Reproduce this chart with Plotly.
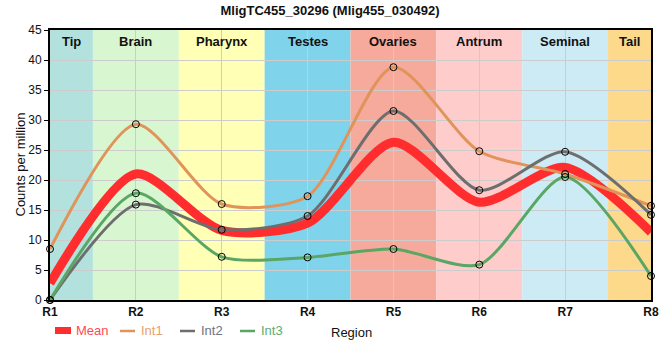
import plotly.graph_objects as go

regions = ["R1", "R2", "R3", "R4", "R5", "R6", "R7", "R8"]
xpos = [1, 2, 3, 4, 5, 6, 7, 8]
int1 = [8.5, 29.3, 16.0, 17.3, 38.8, 24.8, 21.0, 15.7]
int2 = [0.0, 15.9, 11.7, 14.0, 31.5, 18.3, 24.7, 14.2]
int3 = [0.0, 17.8, 7.2, 7.1, 8.5, 5.9, 20.5, 4.0]
mean = [2.8, 21.0, 11.6, 12.8, 26.3, 16.3, 22.1, 11.3]

band_names = ["Tip", "Brain", "Pharynx", "Testes", "Ovaries", "Antrum", "Seminal", "Tail"]
band_colors = ["#b3e2de", "#d8f6cf", "#ffffb5", "#7fd3ea", "#f5aa9c", "#ffcccc", "#cdebf5", "#fdd98c"]

# plot area in pixels (for placing the hand-made legend)
L, R, T, B = 50, 651, 30, 300
def px(x):
    return (x - L) / (R - L)
def py(y):
    return (B - y) / (B - T)

fig = go.Figure()

shapes = []
annotations = []
for i, (nm, col) in enumerate(zip(band_names, band_colors)):
    x0 = max(1, xpos[i] - 0.5)
    x1 = min(8, xpos[i] + 0.5)
    shapes.append(dict(type="rect", xref="x", yref="paper", x0=x0, x1=x1, y0=0, y1=1,
                       fillcolor=col, line=dict(width=0), layer="below"))
    annotations.append(dict(x=(x0 + x1) / 2, y=1, xref="x", yref="paper", yanchor="top",
                            yshift=-2, text="<b>" + nm + "</b>", showarrow=False,
                            font=dict(size=13, color="#111")))

series = [
    ("Mean", mean, "#ff2d2d", 9, False, "#ff4a55", 55, 74),
    ("Int1", int1, "#e0935a", 3, True, "#e9a06e", 120, 139),
    ("Int2", int2, "#6e6e6e", 3, True, "#727282", 180, 199),
    ("Int3", int3, "#5aa765", 3, True, "#62aa72", 240, 259),
]
for name, vals, col, w, mk, tcol, lx, tx in series:
    fig.add_trace(go.Scatter(
        x=xpos, y=vals, mode="lines", name=name, showlegend=False,
        line=dict(color=col, width=w, shape="spline", smoothing=0.75),
        cliponaxis=True,
    ))
    # legend sample
    if name == "Mean":
        shapes.append(dict(type="rect", xref="paper", yref="paper",
                           x0=px(lx), x1=px(lx + 16), y0=py(334), y1=py(327),
                           fillcolor=col, line=dict(width=0)))
    else:
        shapes.append(dict(type="line", xref="paper", yref="paper",
                           x0=px(lx), x1=px(lx + 15), y0=py(331), y1=py(331),
                           line=dict(color=col, width=2.5)))
    annotations.append(dict(x=px(tx), y=py(331), xref="paper", yref="paper",
                            xanchor="left", yanchor="middle", text=name, showarrow=False,
                            font=dict(size=13, color=tcol)))
for name, vals, col, w, mk, tcol, lx, tx in series:
    if mk:
        fig.add_trace(go.Scatter(
            x=xpos, y=vals, mode="markers", showlegend=False, hoverinfo="skip",
            marker=dict(symbol="circle-open", size=7, color="black", line=dict(width=1)),
            cliponaxis=False,
        ))

# axis titles
annotations.append(dict(x=px(351), y=py(332), xref="paper", yref="paper",
                        xanchor="center", yanchor="middle", text="Region", showarrow=False,
                        font=dict(size=13, color="#111")))
annotations.append(dict(x=px(19.5), y=0.5, xref="paper", yref="paper", textangle=-90,
                        xanchor="center", yanchor="middle", text="Counts per million",
                        showarrow=False, font=dict(size=13, color="#111")))

fig.update_layout(
    width=660, height=360,
    margin=dict(l=50, r=9, t=30, b=60),
    paper_bgcolor="white", plot_bgcolor="white",
    showlegend=False,
    font=dict(family="Liberation Sans, Arial, sans-serif", size=12, color="#111"),
    title=dict(text="<b>MligTC455_30296 (Mlig455_030492)</b>", x=0.5, xanchor="center",
               y=0.985, yanchor="top", font=dict(size=13, color="#111")),
    shapes=shapes, annotations=annotations,
    xaxis=dict(range=[1, 8], tickvals=xpos, ticktext=["<b>" + r + "</b>" for r in regions],
               showgrid=True, gridcolor="#cccccc", gridwidth=1, automargin=False,
               showline=True, linecolor="black", linewidth=2, mirror=True,
               ticks="", zeroline=False),
    yaxis=dict(range=[0, 45], dtick=5, showgrid=True, gridcolor="#cccccc", gridwidth=1,
               showline=True, linecolor="black", linewidth=2, mirror=True, automargin=False,
               ticks="outside", ticklen=4, tickcolor="black", zeroline=False),
)

fig.write_html("out.html", config={"displayModeBar": False},
               post_script="document.body.style.margin='0';")
